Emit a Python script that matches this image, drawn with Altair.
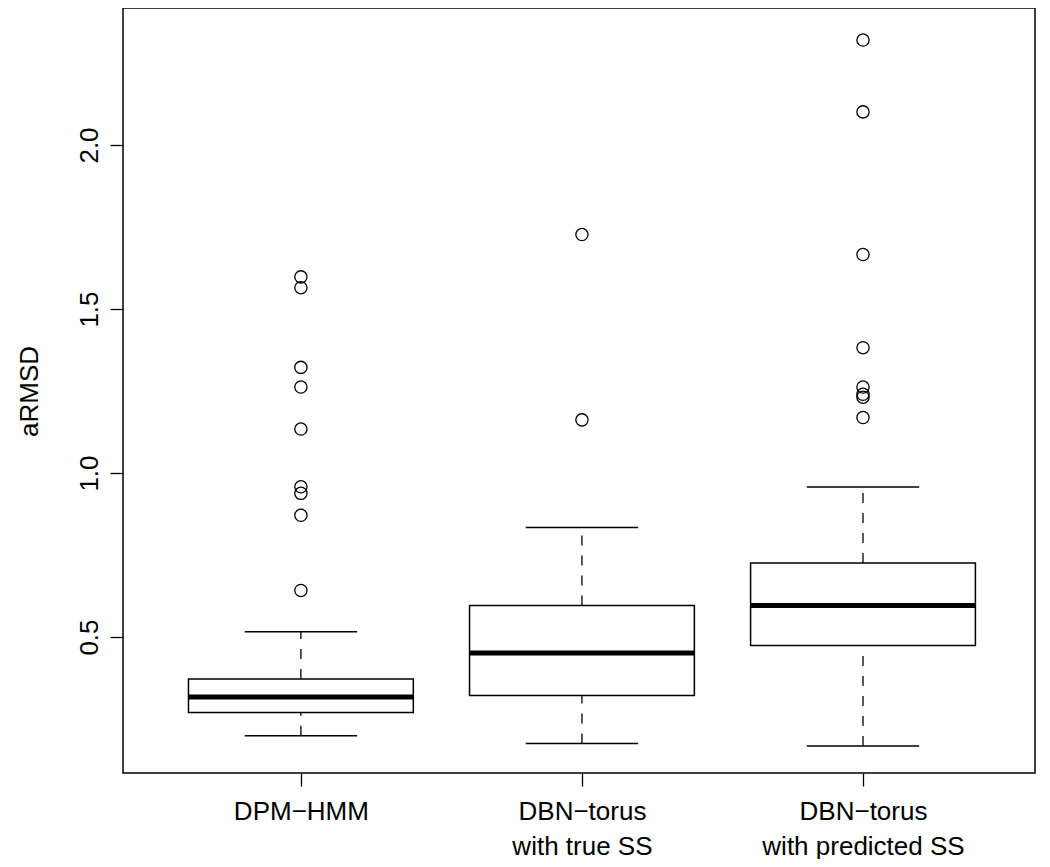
import altair as alt
import pandas as pd

categories = ["DPM−HMM", "DBN−torus\nwith true SS", "DBN−torus\nwith predicted SS"]
positions = [1, 2, 3]
whisker_low = [0.199, 0.175, 0.168]
q1 = [0.270, 0.322, 0.474]
median = [0.317, 0.451, 0.596]
q3 = [0.372, 0.596, 0.726]
whisker_high = [0.516, 0.834, 0.957]
outliers = [
    [1.598, 1.565, 1.322, 1.262, 1.134, 0.958, 0.938, 0.871, 0.642],
    [1.727, 1.162],
    [2.320, 2.101, 1.666, 1.382, 1.262, 1.240, 1.231, 1.169],
]
y_ticks = [0.5, 1.0, 1.5, 2.0]

box_df = pd.DataFrame({
    "cat": categories, "pos": positions, "wlo": whisker_low, "q1": q1,
    "med": median, "q3": q3, "whi": whisker_high,
})
out_rows = []
for p, vals in zip(positions, outliers):
    for v in vals:
        out_rows.append({"pos": p, "val": v})
out_df = pd.DataFrame(out_rows)

# label expression from category list
expr = "''"
for p, c in reversed(list(zip(positions, categories))):
    parts = ", ".join("'" + s + "'" for s in c.split("\n"))
    expr = f"datum.value == {p} ? [{parts}] : ({expr})"

xscale = alt.Scale(domain=[0.367, 3.612], nice=False, zero=False)
yscale = alt.Scale(domain=[0.0854, 2.4177], nice=False, zero=False)

xaxis = alt.Axis(values=positions, labelExpr=expr, title=None, domain=False, grid=False,
                 tickSize=13, tickWidth=1.3, tickColor="black", labelPadding=12,
                 labelFontSize=26, labelLineHeight=35, labelColor="black",
                 labelFont="Liberation Sans", labelAngle=0, labelAlign="center",
                 labelBaseline="top", labelLimit=0)
yaxis = alt.Axis(values=y_ticks, format=".1f", title="aRMSD", domain=False, grid=False,
                 tickSize=13, tickWidth=1.3, tickColor="black", labelPadding=13,
                 labelFontSize=26, labelColor="black", labelFont="Liberation Sans",
                 labelAngle=270, labelAlign="center", labelBaseline="alphabetic",
                 titleFontSize=26, titleFont="Liberation Sans", titleFontWeight="normal",
                 titleColor="black", titleAngle=270, titleX=-94, titleY=383,
                 titleAlign="center", titleBaseline="middle")

base = alt.Chart(box_df).transform_calculate(
    left="datum.pos - 0.4", right="datum.pos + 0.4",
    capl="datum.pos - 0.2", capr="datum.pos + 0.2",
)

X = lambda f: alt.X(f, type="quantitative", scale=xscale, axis=xaxis)
Y = lambda f: alt.Y(f, type="quantitative", scale=yscale, axis=yaxis)

whisk_up = base.mark_rule(color="black", strokeWidth=1.3, strokeDash=[10, 10]).encode(
    x=X("pos"), y=Y("q3"), y2="whi")
whisk_dn = base.mark_rule(color="black", strokeWidth=1.3, strokeDash=[10, 10]).encode(
    x=X("pos"), y=Y("wlo"), y2="q1")
cap_up = base.mark_rule(color="black", strokeWidth=1.5).encode(
    x=X("capl"), x2="capr", y=Y("whi"))
cap_dn = base.mark_rule(color="black", strokeWidth=1.5).encode(
    x=X("capl"), x2="capr", y=Y("wlo"))
boxes = base.mark_rect(fill="white", stroke="black", strokeWidth=1.5).encode(
    x=X("left"), x2="right", y=Y("q1"), y2="q3")
meds = base.mark_rule(color="black", strokeWidth=5).encode(
    x=X("left"), x2="right", y=Y("med"))
pts = alt.Chart(out_df).mark_point(shape="circle", filled=False, size=150,
                                   color="black", strokeWidth=1.3, opacity=1).encode(
    x=X("pos"), y=Y("val"))

chart = alt.layer(whisk_up, whisk_dn, cap_up, cap_dn, boxes, meds, pts).properties(
    width=912, height=765,
    background="white",
    autosize=alt.AutoSizeParams(type="none"),
    padding={"left": 115, "top": 0, "right": 7, "bottom": 86},
).configure_view(stroke="black", strokeWidth=1.5)

chart.save("out.html", embed_options={"renderer": "svg", "actions": False})
